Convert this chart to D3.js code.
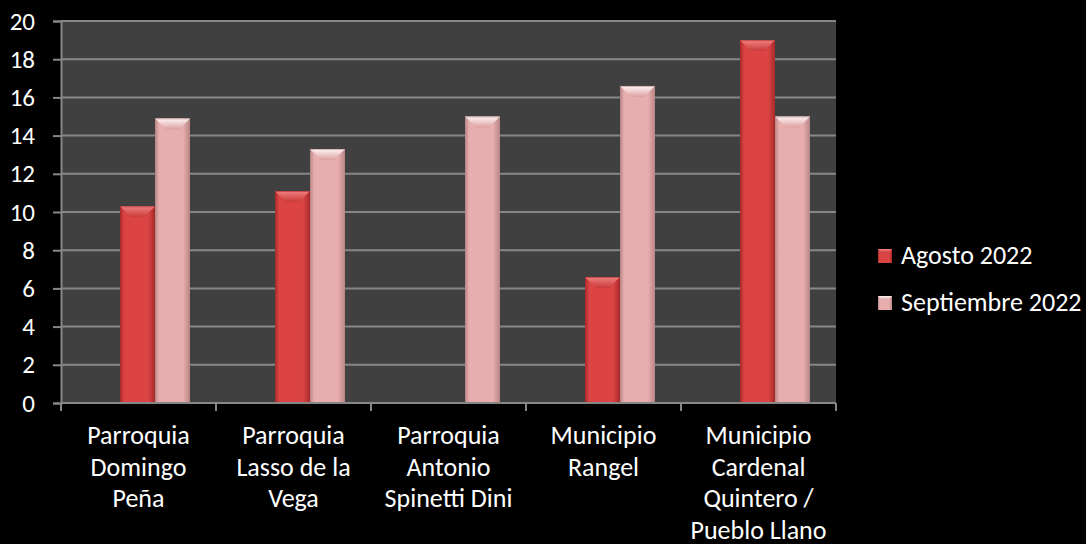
<!DOCTYPE html>
<html>
<head>
<meta charset="UTF-8">
<title>Agosto / Septiembre 2022</title>
<style>
  body { margin: 0; background: #000; }
  svg { display: block; }
</style>
</head>
<body>
<script src="https://cdn.jsdelivr.net/npm/d3@7"></script>
<script>
// datos
var categories = [
  ["Parroquia", "Domingo", "Peña"],
  ["Parroquia", "Lasso de la", "Vega"],
  ["Parroquia", "Antonio", "Spinetti Dini"],
  ["Municipio", "Rangel"],
  ["Municipio", "Cardenal", "Quintero /", "Pueblo Llano"]
]
var seriesNames = ["Agosto 2022", "Septiembre 2022"]
var agosto = [10.3, 11.1, 0, 6.6, 19]
var septiembre = [14.9, 13.3, 15, 16.6, 15]
var yTicks = [0, 2, 4, 6, 8, 10, 12, 14, 16, 18, 20]

var width = 1086, height = 544
var plot = { left: 61, right: 836, top: 21, bottom: 403 }
var font = "Carlito, Lato, sans-serif"
var fontSize = "26px"

var svg = d3.select("body").append("svg")
  .attr("width", width)
  .attr("height", height)
  .style("font-family", font)

// degradados para las barras
var defs = svg.append("defs")
var palettes = [
  { edge: "#a82a2a", mid: "#dc4444", top1: "#f28080", top2: "#c83a3a" },
  { edge: "#b88686", mid: "#e8aeae", top1: "#fff6f6", top2: "#dca0a0" }
]
palettes.forEach(function(p, i) {
  var g = defs.append("linearGradient").attr("id", "side" + i)
    .attr("x1", 0).attr("x2", 1).attr("y1", 0).attr("y2", 0)
  g.append("stop").attr("offset", "0%").attr("stop-color", p.edge)
  g.append("stop").attr("offset", "12%").attr("stop-color", p.mid)
  g.append("stop").attr("offset", "80%").attr("stop-color", p.mid)
  g.append("stop").attr("offset", "100%").attr("stop-color", p.edge)
  var t = defs.append("linearGradient").attr("id", "top" + i)
    .attr("x1", 0).attr("x2", 0).attr("y1", 0).attr("y2", 1)
  t.append("stop").attr("offset", "0%").attr("stop-color", p.top1)
  t.append("stop").attr("offset", "100%").attr("stop-color", p.top2)
})

var x = d3.scaleBand()
  .domain(d3.range(categories.length))
  .range([plot.left, plot.right])

var y = d3.scaleLinear()
  .domain([0, 20])
  .range([plot.bottom, plot.top])

// fondo del área de trazado
svg.append("rect")
  .attr("x", plot.left).attr("y", plot.top)
  .attr("width", plot.right - plot.left)
  .attr("height", plot.bottom - plot.top)
  .attr("fill", "#404040")

// líneas de la cuadrícula
svg.selectAll(".grid")
  .data(yTicks.slice(1))
  .enter().append("line")
  .attr("x1", plot.left).attr("x2", plot.right)
  .attr("y1", function(d) { return y(d) })
  .attr("y2", function(d) { return y(d) })
  .attr("stroke", "#878787")
  .attr("stroke-width", 2)

// barras
var barW = 35
var offset = 59 // desplazamiento de la primera barra dentro de la categoría
var bev = 11
var series = [agosto, septiembre]

series.forEach(function(vals, s) {
  var g = svg.append("g")
  vals.forEach(function(d, i) {
    if (d <= 0) return
    var x0 = x(i) + offset + s * barW
    var y0 = y(d)
    var h = y(0) - y0
    g.append("rect")
      .attr("x", x0).attr("y", y0)
      .attr("width", barW).attr("height", h)
      .attr("fill", "url(#side" + s + ")")
    // bisel superior
    g.append("path")
      .attr("d", "M" + x0 + "," + y0 + "H" + (x0 + barW) +
        "L" + (x0 + barW - bev) + "," + (y0 + bev) +
        "H" + (x0 + bev) + "Z")
      .attr("fill", "url(#top" + s + ")")
    g.append("rect")
      .attr("x", x0 + 0.5).attr("y", y0 + 0.5)
      .attr("width", barW - 1).attr("height", h - 1)
      .attr("fill", "none")
      .attr("stroke", palettes[s].edge)
      .attr("stroke-opacity", 0.6)
  })
})

// eje Y
var yAxis = svg.append("g")
  .attr("transform", "translate(" + plot.left + ",0)")
  .call(d3.axisLeft(y).tickValues(yTicks).tickSize(8).tickPadding(18))
yAxis.select(".domain").attr("stroke", "#878787").attr("stroke-width", 2)
yAxis.selectAll(".tick line").attr("stroke", "#878787").attr("stroke-width", 2)
yAxis.selectAll(".tick text")
  .attr("fill", "#fff")
  .style("font-size", "25px")
  .style("font-family", font)

// eje X
svg.append("line")
  .attr("x1", plot.left).attr("x2", plot.right)
  .attr("y1", plot.bottom).attr("y2", plot.bottom)
  .attr("stroke", "#878787").attr("stroke-width", 2)

var bounds = d3.range(categories.length + 1).map(function(i) {
  return i < categories.length ? x(i) : x(i - 1) + x.bandwidth()
})
svg.selectAll(".xtick")
  .data(bounds)
  .enter().append("line")
  .attr("x1", function(d) { return d }).attr("x2", function(d) { return d })
  .attr("y1", plot.bottom).attr("y2", plot.bottom + 8)
  .attr("stroke", "#878787").attr("stroke-width", 2)

var labels = svg.selectAll(".xlabel")
  .data(categories)
  .enter().append("text")
  .attr("text-anchor", "middle")
  .attr("fill", "#fff")
  .style("font-size", fontSize)
  .attr("x", function(d, i) { return x(i) + x.bandwidth() / 2 })
  .attr("y", 444)

labels.selectAll("tspan")
  .data(function(d) { return d })
  .enter().append("tspan")
  .attr("x", function() { return d3.select(this.parentNode).attr("x") })
  .attr("dy", function(d, i) { return i === 0 ? 0 : 31.5 })
  .text(function(d) { return d })

// leyenda
var legend = svg.selectAll(".legend")
  .data(seriesNames)
  .enter().append("g")
  .attr("transform", function(d, i) { return "translate(878," + (249 + i * 47) + ")" })

legend.append("rect")
  .attr("width", 14).attr("height", 14)
  .attr("fill", function(d, i) { return "url(#side" + i + ")" })
legend.append("path")
  .attr("d", "M0,0H14L10,4H4Z")
  .attr("fill", function(d, i) { return "url(#top" + i + ")" })
legend.append("text")
  .attr("x", 23).attr("y", 14.5)
  .attr("fill", "#fff")
  .style("font-size", fontSize)
  .text(function(d) { return d })
</script>
</body>
</html>
